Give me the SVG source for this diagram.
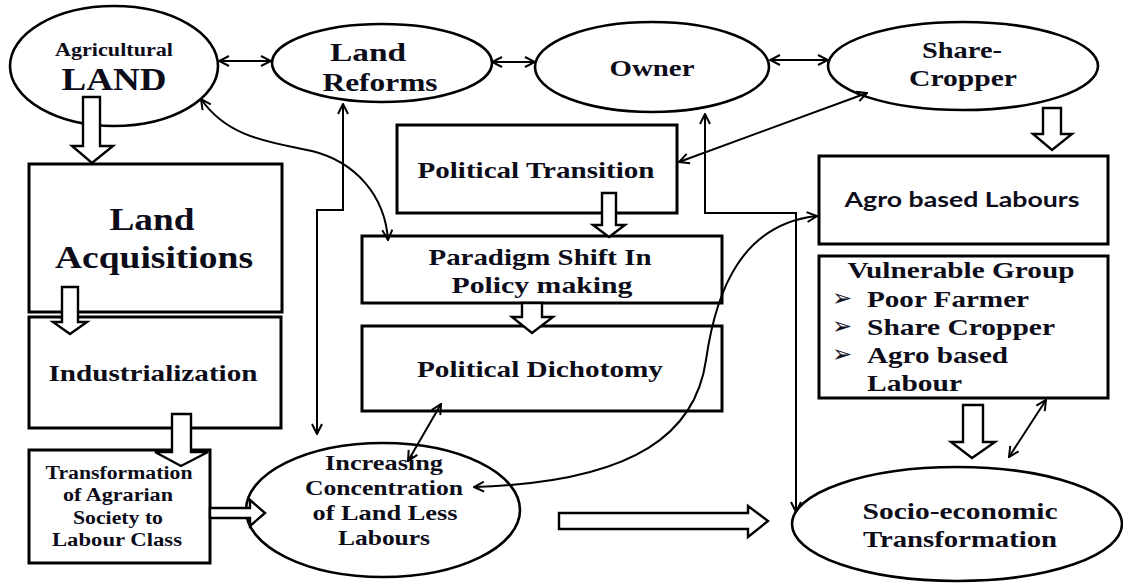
<svg xmlns="http://www.w3.org/2000/svg" width="1123" height="583" viewBox="0 0 1123 583">
  <defs>
    <style>
      .node { fill: #fff; stroke: #000; stroke-width: 2.6; }
      .box { fill: #fff; stroke: #000; stroke-width: 3; }
      .block { fill: #fff; stroke: #000; stroke-width: 2.4; stroke-linejoin: miter; }
      .link { fill: none; stroke: #000; stroke-width: 2; }
      text { font-family: "Liberation Serif", "Times New Roman", serif; }
      .t { font-weight: bold; fill: #0d0d1a; text-anchor: middle; }
      .s { font-family: Lato, "Liberation Sans", sans-serif; font-weight: bold; fill: #0d0d1a; text-anchor: middle; }
      .l { font-weight: bold; fill: #0d0d1a; }
      .b { font-family: "DejaVu Sans", sans-serif; font-size: 24px; fill: #0d0d1a; }
    </style>
    <marker id="head" viewBox="0 0 12 12" refX="11" refY="6" markerWidth="12" markerHeight="12" markerUnits="userSpaceOnUse" orient="auto-start-reverse">
      <path d="M1,1 L11,6 L1,11" fill="none" stroke="#000" stroke-width="2"/>
    </marker>
  </defs>

  <!-- ellipses on the top row -->
  <g id="agricultural-land">
    <ellipse class="node" cx="114" cy="66" rx="104" ry="60"/>
    <text class="t" x="114" y="56" font-size="18" textLength="118" lengthAdjust="spacingAndGlyphs">Agricultural</text>
    <text class="t" x="114" y="90" font-size="31" textLength="105" lengthAdjust="spacingAndGlyphs">LAND</text>
  </g>
  <g id="land-reforms">
    <ellipse class="node" cx="382" cy="63" rx="110" ry="39"/>
    <text class="t" x="368" y="61" font-size="25" textLength="76" lengthAdjust="spacingAndGlyphs">Land</text>
    <text class="t" x="380" y="91" font-size="25" textLength="115" lengthAdjust="spacingAndGlyphs">Reforms</text>
  </g>
  <g id="owner">
    <ellipse class="node" cx="652" cy="67" rx="117" ry="45"/>
    <text class="t" x="652" y="76" font-size="24" textLength="85" lengthAdjust="spacingAndGlyphs">Owner</text>
  </g>
  <g id="share-cropper">
    <ellipse class="node" cx="963" cy="66" rx="135" ry="44"/>
    <text class="t" x="962" y="58" font-size="24" textLength="80" lengthAdjust="spacingAndGlyphs">Share-</text>
    <text class="t" x="963" y="86" font-size="24" textLength="108" lengthAdjust="spacingAndGlyphs">Cropper</text>
  </g>

  <!-- left column -->
  <g id="land-acquisitions">
    <rect class="box" x="29" y="164" width="253" height="148"/>
    <text class="t" x="152" y="230" font-size="31" textLength="85" lengthAdjust="spacingAndGlyphs">Land</text>
    <text class="t" x="154" y="268" font-size="31" textLength="198" lengthAdjust="spacingAndGlyphs">Acquisitions</text>
  </g>
  <g id="industrialization">
    <rect class="box" x="29" y="317" width="252" height="111"/>
    <text class="t" x="153" y="381" font-size="23" textLength="209" lengthAdjust="spacingAndGlyphs">Industrialization</text>
  </g>
  <g id="transformation-agrarian">
    <rect class="box" x="29" y="450" width="181" height="113"/>
    <text class="t" x="119" y="479" font-size="18" textLength="147" lengthAdjust="spacingAndGlyphs">Transformation</text>
    <text class="t" x="118" y="501" font-size="18" textLength="110" lengthAdjust="spacingAndGlyphs">of Agrarian</text>
    <text class="t" x="118" y="524" font-size="18" textLength="90" lengthAdjust="spacingAndGlyphs">Society to</text>
    <text class="t" x="117" y="546" font-size="18" textLength="130" lengthAdjust="spacingAndGlyphs">Labour  Class</text>
  </g>

  <!-- centre column -->
  <g id="political-transition">
    <rect class="box" x="397" y="125" width="280" height="88"/>
    <text class="t" x="536" y="178" font-size="24" textLength="237" lengthAdjust="spacingAndGlyphs">Political Transition</text>
  </g>
  <g id="paradigm-shift">
    <rect class="box" x="362" y="236" width="360" height="67"/>
    <text class="t" x="540" y="265" font-size="24" textLength="223" lengthAdjust="spacingAndGlyphs">Paradigm Shift In</text>
    <text class="t" x="542" y="293" font-size="24" textLength="181" lengthAdjust="spacingAndGlyphs">Policy making</text>
  </g>
  <g id="political-dichotomy">
    <rect class="box" x="362" y="326" width="360" height="85"/>
    <text class="t" x="540" y="377" font-size="24" textLength="246" lengthAdjust="spacingAndGlyphs">Political Dichotomy</text>
  </g>
  <g id="landless-labours">
    <ellipse class="node" cx="383" cy="510" rx="137" ry="67"/>
    <text class="t" x="384" y="470" font-size="22" textLength="118" lengthAdjust="spacingAndGlyphs">Increasing</text>
    <text class="t" x="384" y="495" font-size="22" textLength="158" lengthAdjust="spacingAndGlyphs">Concentration</text>
    <text class="t" x="385" y="520" font-size="22" textLength="145" lengthAdjust="spacingAndGlyphs">of Land Less</text>
    <text class="t" x="384" y="545" font-size="22" textLength="92" lengthAdjust="spacingAndGlyphs">Labours</text>
  </g>

  <!-- right column -->
  <g id="agro-labours">
    <rect class="box" x="819" y="156" width="289" height="88"/>
    <text class="s" x="962" y="207" font-size="20" textLength="235" lengthAdjust="spacingAndGlyphs">Agro based Labours</text>
  </g>
  <g id="vulnerable-group">
    <rect class="box" x="819" y="256" width="289" height="142"/>
    <text class="t" x="961" y="278" font-size="24" textLength="227" lengthAdjust="spacingAndGlyphs">Vulnerable Group</text>
    <text class="b" x="832" y="306">➢</text>
    <text class="b" x="832" y="334">➢</text>
    <text class="b" x="832" y="362">➢</text>
    <text class="l" x="867" y="307" font-size="24" textLength="162" lengthAdjust="spacingAndGlyphs">Poor Farmer</text>
    <text class="l" x="867" y="335" font-size="24" textLength="188" lengthAdjust="spacingAndGlyphs">Share Cropper</text>
    <text class="l" x="867" y="363" font-size="24" textLength="141" lengthAdjust="spacingAndGlyphs">Agro based</text>
    <text class="l" x="867" y="391" font-size="24" textLength="95" lengthAdjust="spacingAndGlyphs">Labour</text>
  </g>
  <g id="socio-economic">
    <ellipse class="node" cx="957" cy="524" rx="165" ry="57"/>
    <text class="t" x="960" y="519" font-size="24" textLength="195" lengthAdjust="spacingAndGlyphs">Socio-economic</text>
    <text class="t" x="960" y="547" font-size="24" textLength="194" lengthAdjust="spacingAndGlyphs">Transformation</text>
  </g>

  <!-- hollow block arrows -->
  <g id="block-arrows">
    <path class="block" d="M83,97 L100,97 L100,146 L113,146 L92,163 L72,146 L83,146 Z"/>
    <path class="block" d="M62,287 L78,287 L78,322 L87,322 L70,334 L53,322 L62,322 Z"/>
    <path class="block" d="M172,414 L191,414 L191,452 L208,452 L181,466 L155,452 L172,452 Z"/>
    <path class="block" d="M210,508 L250,508 L250,500 L265,513 L250,526 L250,518 L210,518 Z"/>
    <path class="block" d="M602,193 L616,193 L616,225 L625,225 L609,237 L593,225 L602,225 Z"/>
    <path class="block" d="M522,303 L542,303 L542,317 L553,317 L532,333 L512,317 L522,317 Z"/>
    <path class="block" d="M1043,108 L1061,108 L1061,134 L1072,134 L1052,150 L1033,134 L1043,134 Z"/>
    <path class="block" d="M559,513 L748,513 L748,506 L768,521 L748,537 L748,529 L559,529 Z"/>
    <path class="block" d="M963,405 L983,405 L983,442 L995,442 L972,458 L951,442 L963,442 Z"/>
  </g>

  <!-- two-way connectors -->
  <g id="connectors">
    <path class="link" d="M219,61 L271,61" marker-start="url(#head)" marker-end="url(#head)"/>
    <path class="link" d="M492,62 L535,62" marker-start="url(#head)" marker-end="url(#head)"/>
    <path class="link" d="M770,60 L828,60" marker-start="url(#head)" marker-end="url(#head)"/>
    <path class="link" d="M343,104 L343,210 L317,210 L317,434" marker-start="url(#head)" marker-end="url(#head)"/>
    <path class="link" d="M705,114 L705,213 L796,213 L796,512" marker-start="url(#head)" marker-end="url(#head)"/>
    <path class="link" d="M867,93 L679,162" marker-start="url(#head)" marker-end="url(#head)"/>
    <path class="link" d="M201,99 C228,138 270,142 312,151 C356,162 385,196 388,240" marker-start="url(#head)" marker-end="url(#head)"/>
    <path class="link" d="M817,216 C742,224 716,290 706,360 C696,430 640,482 474,487" marker-start="url(#head)" marker-end="url(#head)"/>
    <path class="link" d="M441,404 L408,461" marker-start="url(#head)" marker-end="url(#head)"/>
    <path class="link" d="M1046,400 L1009,457" marker-start="url(#head)" marker-end="url(#head)"/>
  </g>
</svg>
